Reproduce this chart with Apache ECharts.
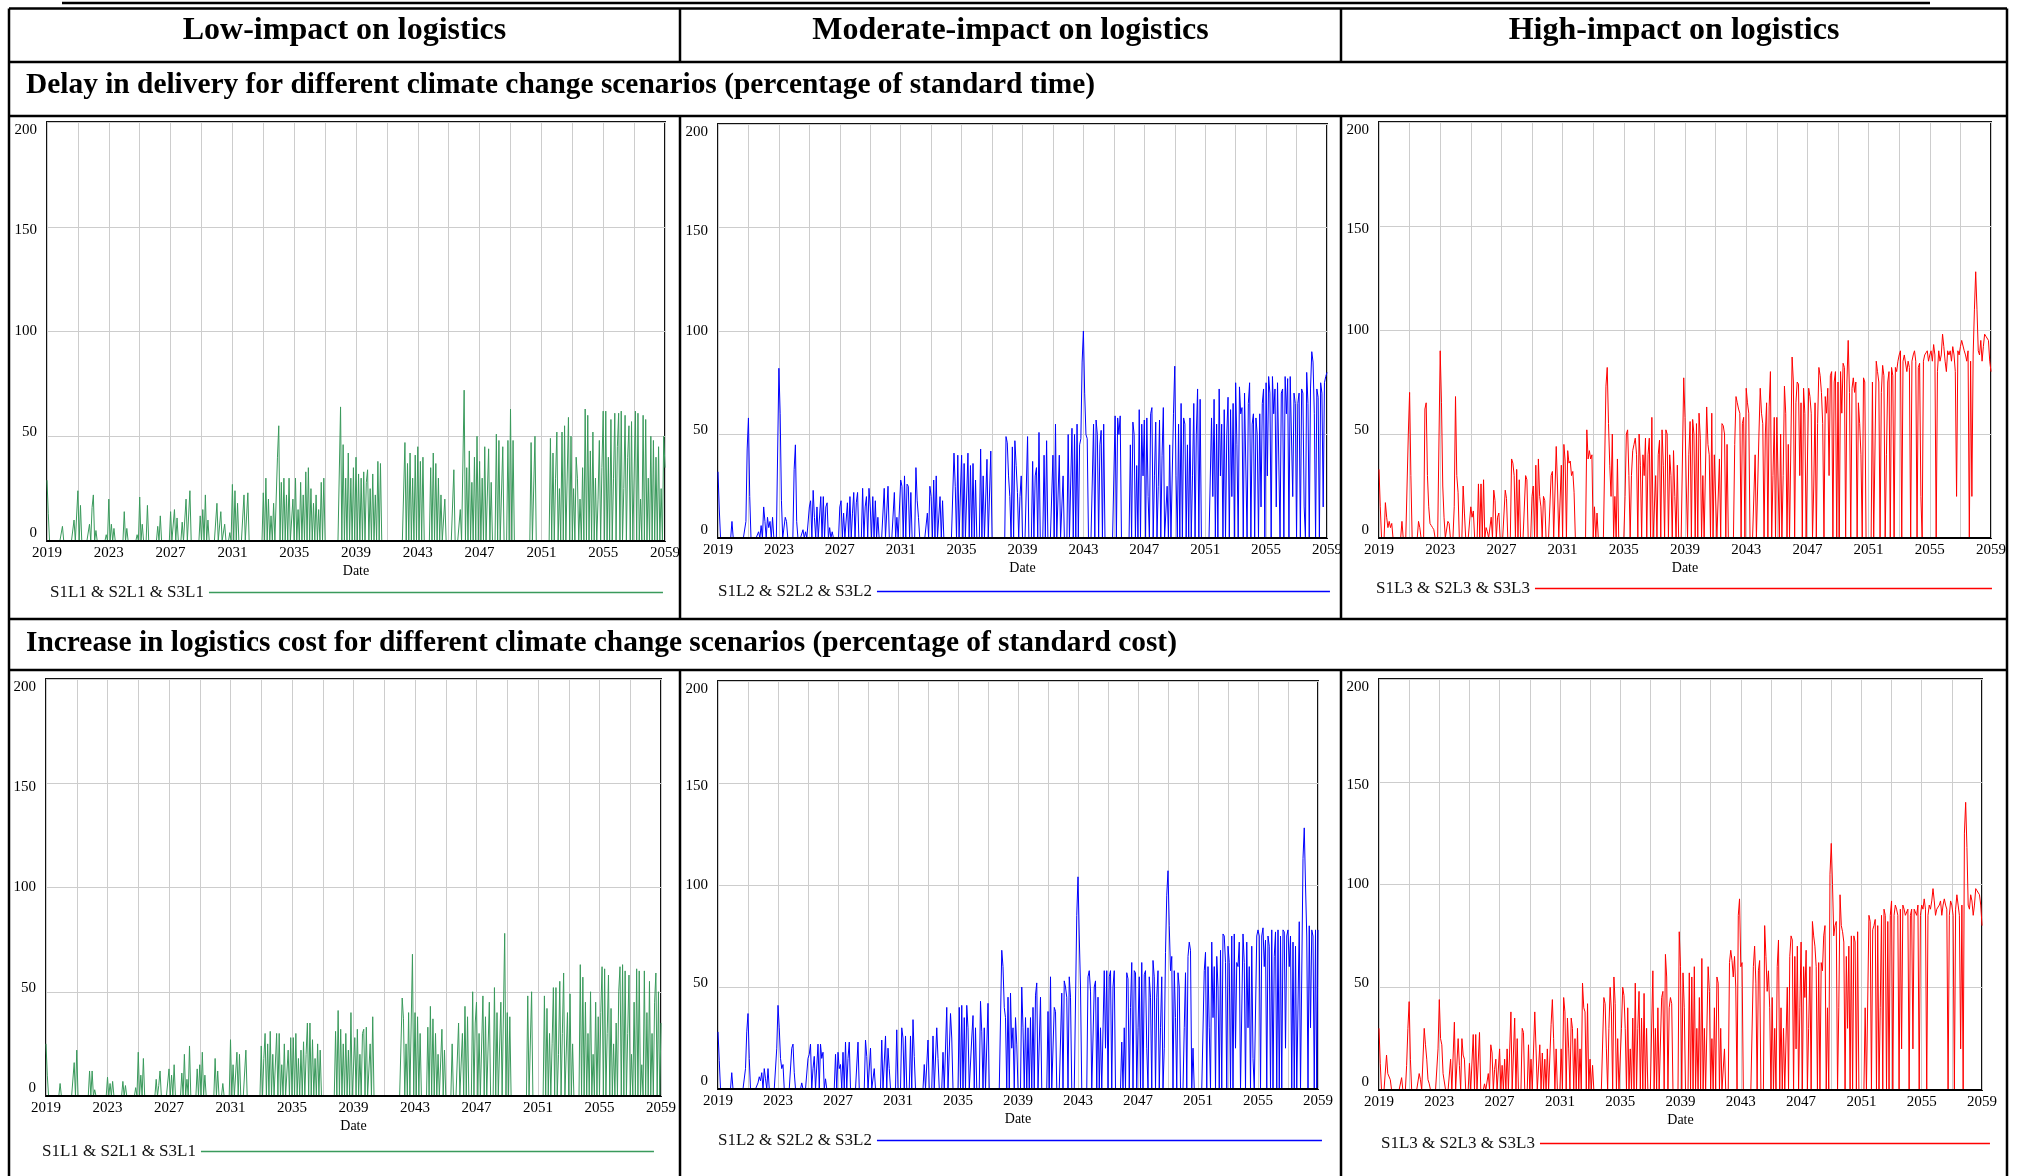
<!DOCTYPE html>
<html>
<head>
<meta charset="utf-8">
<title>Delay and logistics cost under climate change scenarios</title>
<script src="https://cdn.jsdelivr.net/npm/echarts@6/dist/echarts.min.js"></script>
<style>
  html, body { margin: 0; padding: 0; background: #fff; }
  #chart { width: 2022px; height: 1176px; }
</style>
</head>
<body>
<div id="chart"></div>
<script>
const startYear = 2019;
const endYear = 2059;
const yTicks = [0, 50, 100, 150, 200];
const columnTitles = ['Low-impact on logistics', 'Moderate-impact on logistics', 'High-impact on logistics'];
const rowTitles = [
  'Delay in delivery for different climate change scenarios (percentage of standard time)',
  'Increase in logistics cost for different climate change scenarios (percentage of standard cost)'
];
const seriesNames = ['S1L1 & S2L1 & S3L1', 'S1L2 & S2L2 & S3L2', 'S1L3 & S2L3 & S3L3'];
const colors = ['#3a9a5c', '#0000ff', '#ff0000'];

// monthly values, one line per year from 2019, the last one is Jan 2059
const lowDelay = [
  29,13,0,0,0,0,0,0,0,0,0,0,
  7,0,0,0,0,0,0,0,0,10,0,0,
  24,0,17,0,0,0,0,0,0,8,0,16,
  22,0,5,0,0,0,0,0,0,0,3,0,
  20,0,8,0,6,0,0,0,0,0,0,0,
  14,0,6,0,0,0,0,0,0,0,3,0,
  21,0,8,0,0,0,17,0,0,0,0,0,
  0,0,7,0,12,0,0,0,0,0,0,0,
  14,0,0,15,0,11,0,0,0,9,0,0,
  20,0,0,24,0,0,0,0,0,0,0,12,
  0,15,0,22,0,10,0,0,0,0,0,0,
  18,0,0,14,0,0,8,0,0,0,4,0,
  27,0,24,0,18,0,0,0,0,22,0,0,
  23,0,0,0,0,0,0,0,0,0,0,0,
  23,0,30,0,20,0,12,0,18,0,0,40,
  55,0,28,0,30,0,22,0,30,0,0,20,
  0,30,0,15,0,28,0,22,0,33,0,35,
  0,25,0,18,0,22,0,15,0,28,0,30,
  0,0,0,0,0,0,0,0,0,0,0,0,
  64,0,46,0,30,0,42,0,30,0,35,0,
  40,0,32,0,30,0,33,0,28,34,0,25,
  0,32,0,22,0,38,0,37,0,0,0,0,
  0,0,0,0,0,0,0,0,0,0,0,0,
  0,0,47,0,37,0,42,0,30,0,41,0,
  45,0,38,0,40,0,0,0,0,0,35,0,
  42,0,37,0,30,0,22,0,0,20,0,0,
  0,0,0,0,34,0,0,0,0,15,0,0,
  72,0,35,0,43,0,28,0,40,0,50,0,
  38,0,30,0,45,0,0,44,0,28,0,0,
  0,51,0,48,0,0,45,0,0,0,48,0,
  63,0,48,0,0,0,0,0,0,0,0,0,
  0,0,0,0,47,0,0,50,0,0,0,0,
  0,0,0,0,0,0,0,49,0,42,0,30,
  52,0,25,0,52,0,55,0,0,59,0,50,
  0,25,0,40,30,0,20,0,35,0,63,0,
  60,0,43,0,52,0,30,0,20,48,0,35,
  62,0,62,0,40,0,58,0,30,61,0,45,
  61,0,62,0,25,60,0,40,55,0,57,0,
  0,62,0,61,0,20,0,60,0,58,0,30,
  0,50,0,48,0,40,0,45,0,25,0,50,
  35
];

const modDelay = [
  32,14,0,0,0,0,0,0,0,0,0,8,
  0,0,0,0,0,0,0,0,0,0,8,43,
  58,20,0,0,0,0,0,0,3,0,6,0,
  15,8,0,10,5,8,0,10,0,0,0,0,
  82,60,18,0,0,10,8,0,0,0,0,0,
  33,45,8,0,0,0,0,4,0,3,0,0,
  15,18,0,23,10,0,15,0,0,20,0,20,
  0,15,17,0,5,0,3,0,0,0,0,0,
  15,18,0,12,0,0,17,0,20,0,12,22,
  0,17,22,0,0,0,24,0,15,20,0,24,
  15,0,20,0,18,0,10,0,0,0,0,24,
  0,0,25,0,0,0,0,22,0,10,0,0,
  28,25,0,30,0,26,25,0,22,0,0,0,
  34,18,10,0,0,0,0,0,0,12,0,25,
  20,0,28,0,30,0,0,20,0,18,0,0,
  0,0,0,0,0,0,41,25,0,40,0,0,
  40,0,36,0,0,41,0,35,0,36,0,28,
  0,0,0,43,0,30,0,0,38,0,0,42,
  0,0,0,0,0,0,0,0,0,0,0,49,
  46,30,20,0,44,0,47,35,22,0,20,30,
  0,0,0,0,49,0,0,0,37,0,30,34,
  0,51,0,0,0,40,0,47,0,0,0,0,
  40,0,55,0,0,40,0,0,30,0,0,0,
  50,0,0,53,0,50,0,55,0,45,48,85,
  100,70,50,48,0,0,0,0,55,0,57,50,
  0,45,52,0,55,0,0,0,0,0,0,0,
  0,59,0,58,50,59,0,0,0,0,0,0,
  0,45,0,56,50,0,35,0,62,0,55,30,
  57,0,58,20,0,60,63,0,30,56,0,25,
  57,0,40,63,0,0,25,0,45,0,0,60,
  83,30,0,55,0,65,0,58,55,0,45,0,
  58,0,30,65,0,50,72,0,67,0,0,0,
  0,0,0,0,0,58,20,67,0,55,0,72,
  30,55,0,62,0,50,68,0,62,20,65,0,
  75,45,0,73,60,63,0,70,70,0,65,75,
  0,55,60,0,58,50,0,60,15,65,72,0,
  75,30,78,70,0,78,60,72,15,75,75,0,
  70,72,0,78,60,77,0,78,78,20,70,65,
  0,65,70,0,72,70,15,0,80,65,0,72,
  90,85,60,0,72,68,0,75,70,15,75,78,
  80
];

const highDelay = [
  33,15,0,0,0,17,10,5,8,5,7,0,
  0,0,0,0,0,0,8,0,0,0,0,50,
  70,30,0,0,0,0,0,8,5,0,0,0,
  62,65,30,15,7,6,5,4,0,0,0,0,
  90,65,25,10,0,0,8,7,0,0,0,15,
  68,30,22,0,0,0,25,12,0,0,0,0,
  15,10,13,0,0,0,26,0,26,0,28,0,
  5,3,0,0,10,0,23,18,0,10,12,0,
  0,0,0,23,19,0,0,0,38,36,30,0,
  33,0,28,0,0,0,0,30,28,0,0,0,
  20,25,0,35,0,38,20,15,0,20,18,0,
  0,0,0,30,32,0,0,44,25,0,0,35,
  0,45,37,0,42,36,37,30,32,22,0,0,
  0,0,0,0,0,0,0,52,38,42,38,40,
  0,15,0,12,0,0,0,0,0,0,73,82,
  55,35,20,50,0,20,0,38,0,0,0,0,
  0,20,50,52,30,0,30,42,45,48,40,0,
  50,35,0,40,30,48,0,40,48,0,58,0,
  0,30,0,40,47,0,52,35,0,52,50,0,
  40,30,0,42,20,0,35,0,0,0,0,77,
  58,25,0,40,56,0,57,50,0,55,0,60,
  48,0,30,0,0,63,45,40,0,60,0,40,
  40,0,0,38,0,55,54,50,0,45,0,0,
  0,0,0,45,68,65,62,60,0,55,58,0,
  72,65,60,0,0,0,0,40,0,0,50,72,
  60,55,0,50,65,0,63,80,0,30,58,0,
  58,58,0,50,0,30,73,60,0,45,0,0,
  87,75,0,65,75,74,30,65,0,72,60,0,
  0,72,68,60,0,25,65,0,55,82,78,70,
  55,0,68,60,72,30,78,80,0,75,80,0,
  75,0,80,60,84,82,0,75,95,70,0,72,
  77,70,75,0,65,55,40,0,77,75,0,0,
  0,0,0,75,0,0,85,80,75,0,70,83,
  78,0,40,75,80,0,82,78,0,82,80,85,
  88,90,0,85,88,88,80,85,82,0,85,88,
  90,85,0,82,84,20,0,85,88,89,90,85,
  88,90,85,93,88,0,80,90,85,88,98,92,
  85,80,90,88,90,85,92,88,80,20,90,88,
  92,95,95,90,88,85,90,0,85,20,88,110,
  128,110,90,88,95,85,92,98,97,97,95,85,
  80
];

const lowCost = [
  25,10,0,0,0,0,0,0,0,0,0,6,
  0,0,0,0,0,0,0,0,0,0,16,0,
  22,0,0,0,0,0,0,0,0,0,12,0,
  12,0,3,0,0,0,0,0,0,0,0,0,
  9,0,6,0,7,0,0,0,0,0,0,0,
  7,0,5,0,0,0,0,0,0,0,4,0,
  21,0,10,0,18,0,0,0,0,0,0,0,
  0,0,8,0,5,12,0,0,0,0,0,0,
  13,0,10,0,15,0,0,0,0,0,11,0,
  20,0,8,0,24,0,0,0,0,0,13,0,
  15,0,21,0,10,0,0,0,0,0,0,0,
  18,0,12,0,0,0,6,0,0,0,0,0,
  27,0,15,0,0,21,0,20,0,0,0,0,
  22,0,0,0,0,0,0,0,0,0,0,0,
  24,0,18,30,0,25,0,31,0,20,0,0,
  30,0,30,0,15,0,25,0,0,22,0,28,
  0,28,0,30,0,18,0,22,0,26,0,20,
  35,0,35,0,27,0,18,0,25,0,22,0,
  0,0,0,0,0,0,0,0,0,0,31,0,
  41,0,32,0,25,0,30,0,22,0,40,0,
  0,28,0,32,0,20,0,30,32,0,33,0,
  0,25,0,38,0,0,0,0,0,0,0,0,
  0,0,0,0,0,0,0,0,0,0,0,0,
  0,0,47,37,0,25,0,40,0,0,68,0,
  40,0,38,0,30,0,0,0,0,0,33,0,
  43,0,37,0,30,0,20,0,0,32,0,22,
  0,0,0,0,0,25,0,0,0,0,35,0,
  0,30,0,43,0,38,0,0,0,50,0,35,
  45,0,30,0,0,48,0,38,0,0,45,0,
  0,0,52,0,40,0,0,45,0,0,78,0,
  40,0,38,0,0,0,0,0,0,0,0,0,
  0,0,0,0,48,0,0,50,0,0,0,0,
  0,0,0,0,0,48,0,42,0,30,0,25,
  52,0,52,0,20,55,0,30,59,0,0,40,
  0,49,0,25,0,0,0,0,0,63,0,57,
  0,45,0,30,0,50,0,20,0,45,0,38,
  0,40,62,0,61,0,30,58,0,42,0,25,
  0,35,0,50,62,0,63,0,60,0,30,58,
  0,20,0,45,0,61,0,60,0,15,0,60,
  0,40,0,55,0,30,0,45,59,0,50,0,
  35
];

const modCost = [
  28,14,0,0,0,0,0,0,0,0,0,8,
  0,0,0,0,0,0,0,0,0,0,10,28,
  37,15,0,0,0,0,0,0,3,6,4,8,
  0,10,5,0,10,0,0,0,0,0,0,20,
  41,30,15,10,12,0,0,0,0,0,0,20,
  22,8,0,0,0,0,0,3,0,0,0,0,
  15,17,22,0,10,16,0,0,22,0,22,15,
  18,0,5,0,0,0,0,0,0,0,17,0,
  18,10,12,0,18,0,23,0,15,23,0,0,
  0,0,0,0,23,0,0,0,0,0,24,16,
  0,0,20,0,0,10,0,0,0,0,0,24,
  0,0,26,0,20,10,0,0,0,0,0,29,
  0,0,0,30,25,0,26,0,0,0,26,0,
  34,16,0,0,0,0,0,0,0,12,0,0,
  24,0,0,0,26,0,0,30,15,0,0,0,
  18,0,0,40,0,0,37,25,0,0,0,0,
  0,40,0,41,0,35,0,41,30,0,0,25,
  36,0,30,0,0,0,43,28,0,30,0,0,
  42,0,0,0,0,0,0,0,0,0,0,68,
  60,40,35,0,45,0,47,20,30,0,35,22,
  0,0,0,50,30,0,35,0,30,0,35,0,
  40,0,46,52,0,0,45,0,0,0,0,0,
  38,0,55,0,0,40,38,0,0,0,0,47,
  0,53,50,45,0,55,45,0,0,0,0,85,
  104,75,50,0,0,0,0,0,55,58,48,0,
  0,50,53,0,45,0,30,0,0,58,20,58,
  0,55,58,0,50,58,0,0,0,0,0,23,
  0,30,0,57,54,0,40,62,0,58,57,0,
  30,55,0,62,0,56,58,20,0,55,45,0,
  63,55,0,45,58,0,30,55,0,20,67,95,
  107,80,58,65,0,58,35,0,57,50,0,0,
  0,30,57,0,65,72,68,0,20,0,0,0,
  0,0,0,0,0,58,67,0,60,30,0,72,
  35,60,0,65,50,0,68,0,76,75,62,0,
  70,62,0,75,0,76,20,62,60,72,0,0,
  76,62,0,72,30,60,0,70,15,0,0,75,
  78,75,0,75,79,60,73,0,75,70,0,78,
  0,65,77,0,78,0,75,0,78,77,20,75,
  78,60,75,0,72,0,70,0,0,82,0,0,
  113,128,100,75,0,80,30,78,75,0,78,0,
  78
];

const highCost = [
  30,13,0,0,0,0,17,8,8,5,0,0,
  0,0,0,0,0,0,6,0,0,0,12,30,
  43,15,0,0,0,0,0,0,8,5,0,0,
  30,22,15,5,3,0,0,0,0,0,0,20,
  44,25,22,8,8,0,0,0,0,15,0,0,
  33,0,0,25,12,0,25,17,15,0,0,0,
  13,0,0,27,0,27,0,0,28,0,0,0,
  3,0,0,8,0,22,18,0,10,15,0,0,
  20,0,12,0,15,0,20,0,0,38,0,0,
  35,0,25,0,0,0,30,28,0,0,0,22,
  0,15,0,0,38,20,0,0,22,0,18,0,
  15,0,20,0,0,32,44,25,0,20,0,0,
  0,20,0,45,38,0,35,20,0,35,30,0,
  25,0,30,0,20,0,52,40,38,0,42,0,
  15,0,12,0,0,0,0,0,0,0,0,45,
  42,20,0,30,50,38,0,55,42,0,25,0,
  0,30,50,46,30,0,40,0,20,0,35,0,
  52,0,30,48,0,35,0,47,0,30,0,0,
  0,0,58,0,30,0,40,0,0,45,48,0,
  66,55,0,40,45,42,0,0,0,0,0,77,
  60,0,57,40,0,0,0,57,0,55,0,60,
  0,30,0,45,0,64,0,30,0,0,60,48,
  0,25,0,40,0,55,52,0,30,0,0,20,
  0,0,0,62,68,63,55,65,50,0,85,93,
  60,62,0,0,0,0,0,0,0,0,60,70,
  52,0,58,63,0,0,0,80,65,48,58,40,
  0,45,0,30,0,60,73,0,40,0,30,0,
  0,50,0,65,75,73,0,65,20,70,0,40,
  72,0,60,45,68,0,30,60,0,82,75,70,
  60,0,62,0,62,58,75,80,0,40,0,105,
  120,100,75,80,82,0,40,95,80,77,72,0,
  65,30,70,0,75,0,75,72,0,77,0,0,
  0,0,0,40,0,0,85,82,0,78,80,83,
  0,80,0,40,85,0,88,85,0,82,0,85,
  92,0,85,90,88,85,0,88,20,90,88,85,
  85,88,0,85,88,20,88,88,85,90,0,85,
  90,88,93,88,0,85,90,88,92,98,92,85,
  88,88,90,92,85,90,93,90,88,0,85,92,
  90,85,0,88,95,90,85,20,90,0,125,140,
  118,90,88,95,92,85,90,98,97,97,95,90,
  80
];

const serif = '"Liberation Serif", "Times New Roman", serif';

// where each plot sits inside the table cells
const panels = [
  { values: lowDelay,  col: 0, left: 47,   top: 122, width: 618, height: 419, lx: 50,   ly: 584,  lw: 454 },
  { values: modDelay,  col: 1, left: 718,  top: 124, width: 609, height: 414, lx: 718,  ly: 583,  lw: 453 },
  { values: highDelay, col: 2, left: 1379, top: 122, width: 612, height: 416, lx: 1376, ly: 580,  lw: 457 },
  { values: lowCost,   col: 0, left: 46,   top: 679, width: 615, height: 417, lx: 42,   ly: 1143, lw: 453 },
  { values: modCost,   col: 1, left: 718,  top: 681, width: 600, height: 408, lx: 718,  ly: 1132, lw: 445 },
  { values: highCost,  col: 2, left: 1379, top: 679, width: 603, height: 411, lx: 1381, ly: 1135, lw: 450 }
];

// table rules
const tableLeft = 9, tableRight = 2007, tableTop = 8.5, tableBottom = 1176;
const rowLines = [62, 116, 619, 670];
const colLines = [680, 1341];

function line(x1, y1, x2, y2, w) {
  return { type: 'line', z: 100, shape: { x1, y1, x2, y2 }, style: { stroke: '#000', lineWidth: w || 2.5 } };
}

const graphics = [
  line(62, 3, 1930, 3, 2.5),
  line(tableLeft, tableTop, tableRight, tableTop),
  line(tableLeft, tableTop, tableLeft, tableBottom),
  line(tableRight, tableTop, tableRight, tableBottom)
];
rowLines.forEach(y => graphics.push(line(tableLeft, y, tableRight, y)));
colLines.forEach(x => {
  graphics.push(line(x, tableTop, x, rowLines[0]));
  graphics.push(line(x, rowLines[1], x, rowLines[2]));
  graphics.push(line(x, rowLines[3], x, tableBottom));
});
// keep the zero axis black over the series, like the original plots
panels.forEach(p => graphics.push(line(p.left, p.top + p.height, p.left + p.width, p.top + p.height, 2)));

const colCenters = [(tableLeft + colLines[0]) / 2, (colLines[0] + colLines[1]) / 2, (colLines[1] + tableRight) / 2];
columnTitles.forEach((t, i) => {
  graphics.push({
    type: 'text', x: colCenters[i], y: 30.5, z: 100,
    style: { text: t, fill: '#000', font: 'bold 32px ' + serif, textAlign: 'center', textVerticalAlign: 'middle', align: 'center', verticalAlign: 'middle' }
  });
});
[85.5, 643].forEach((y, i) => {
  graphics.push({
    type: 'text', x: 26, y: y, z: 100,
    style: { text: rowTitles[i], fill: '#000', font: 'bold 29.4px ' + serif, textAlign: 'left', textVerticalAlign: 'middle', align: 'left', verticalAlign: 'middle' }
  });
});

// y labels in the original are pulled a little toward the middle
const yRich = {
  o200: { padding: [16, 0, 0, 0] },
  o150: { padding: [7, 0, 0, 0] },
  o100: {},
  o50: { padding: [0, 0, 8, 0] },
  o0: { padding: [0, 0, 16, 0] }
};

const chart = echarts.init(document.getElementById('chart'));
chart.setOption({
  animation: false,
  backgroundColor: '#fff',
  graphic: graphics,
  grid: panels.map(p => ({
    left: p.left, top: p.top, width: p.width, height: p.height,
    show: true, borderColor: '#111', borderWidth: 2, backgroundColor: '#fff'
  })),
  xAxis: panels.map((p, i) => ({
    type: 'value', gridIndex: i, min: 0, max: endYear - startYear, interval: 2,
    axisLine: { show: false }, axisTick: { show: false },
    splitLine: { show: true, lineStyle: { color: '#cdcdcd', width: 1 } },
    axisLabel: {
      margin: 5, color: '#000', fontFamily: serif, fontSize: 15,
      formatter: v => (v % 4 === 0 ? String(startYear + v) : '')
    },
    name: 'Date', nameLocation: 'middle', nameGap: 23,
    nameTextStyle: { fontFamily: serif, fontSize: 14, color: '#000' }
  })),
  yAxis: panels.map((p, i) => ({
    type: 'value', gridIndex: i, min: yTicks[0], max: yTicks[yTicks.length - 1], interval: 50,
    axisLine: { show: false }, axisTick: { show: false },
    splitLine: { show: true, lineStyle: { color: '#cdcdcd', width: 1 } },
    axisLabel: {
      margin: 10, color: '#000', fontFamily: serif, fontSize: 15,
      formatter: v => '{o' + v + '|' + v + '}',
      rich: yRich
    }
  })),
  legend: panels.map(p => ({
    data: [seriesNames[p.col]],
    left: p.lx, top: p.ly, padding: 0,
    align: 'right', icon: 'rect', itemWidth: p.lw, itemHeight: 1.5,
    selectedMode: false,
    textStyle: { fontFamily: serif, fontSize: 17, color: '#111' }
  })),
  series: panels.map((p, i) => ({
    type: 'line', name: seriesNames[p.col],
    xAxisIndex: i, yAxisIndex: i,
    data: p.values.map((v, k) => [k / 12, v]),
    showSymbol: false, symbol: 'none',
    lineStyle: { width: 1, color: colors[p.col] },
    itemStyle: { color: colors[p.col] },
    silent: true
  }))
});
</script>
</body>
</html>
